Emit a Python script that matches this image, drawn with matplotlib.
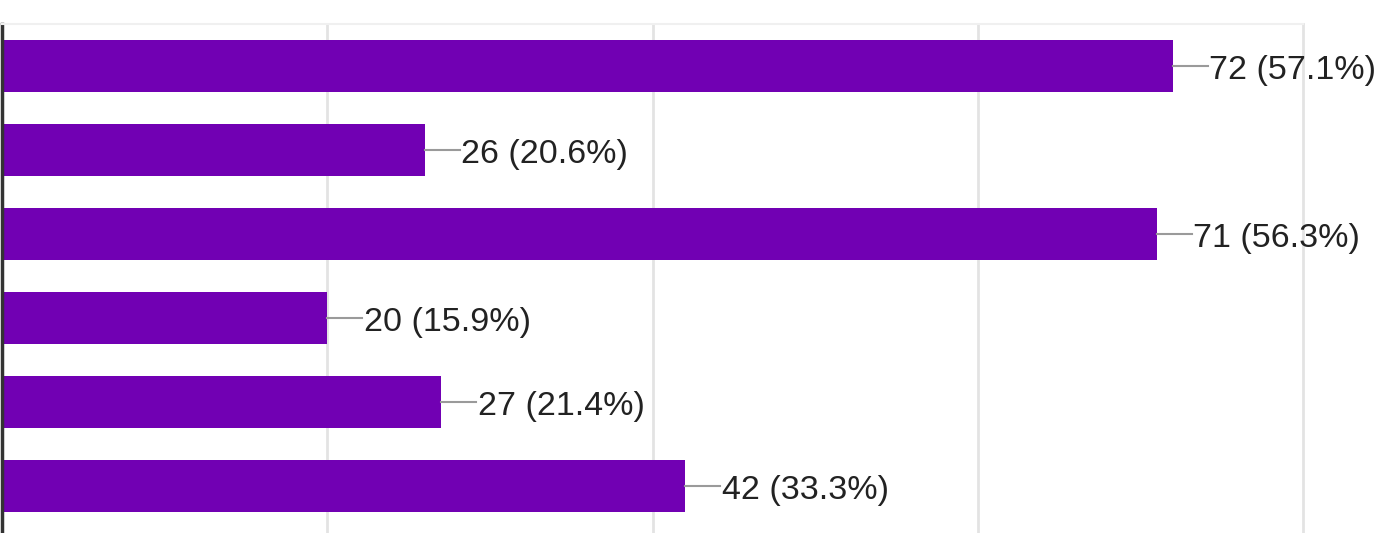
import matplotlib
matplotlib.use("Agg")
import matplotlib.pyplot as plt

# answers counted per option (option labels are cropped out of the picture)
counts = [72, 26, 71, 20, 27, 42]
percents = [57.1, 20.6, 56.3, 15.9, 21.4, 33.3]
grid_ticks = [20, 40, 60, 80]

W, H = 1388, 533
fig = plt.figure(figsize=(W / 100, H / 100), dpi=100)
fig.patch.set_facecolor("white")

# plot area: left axis at x~2px, last gridline at x~1304px, top border at y~24px
ax = fig.add_axes([2 / W, 0, (1303 - 2) / W, (H - 24) / H])

pos = list(range(len(counts)))
ax.barh(pos, counts, height=0.62, color="#7100b3", zorder=2)

ax.set_xlim(0, 80)
ax.set_ylim(-0.5 + 509 / 84, -0.5)

for x in grid_ticks:
    ax.axvline(x, color="#e3e3e3", lw=2, zorder=1, clip_on=False)

for spine in ["right", "bottom"]:
    ax.spines[spine].set_visible(False)
ax.spines["left"].set_color("#333333")
ax.spines["left"].set_linewidth(2.5)
ax.spines["top"].set_color("#f0f0f0")
ax.spines["top"].set_linewidth(1.5)
ax.set_xticks([])
ax.set_yticks([])

for y, c, p in zip(pos, counts, percents):
    ax.plot([c, c + 2.15], [y, y], color="#9a9a9a", lw=1.5, zorder=3, clip_on=False)
    ax.text(c + 2.25, y + 0.05, f"{c} ({p}%)", va="center", ha="left",
            fontsize=24.5, family="Liberation Sans", color="#222222", clip_on=False)

fig.savefig("out.png", dpi=100)
